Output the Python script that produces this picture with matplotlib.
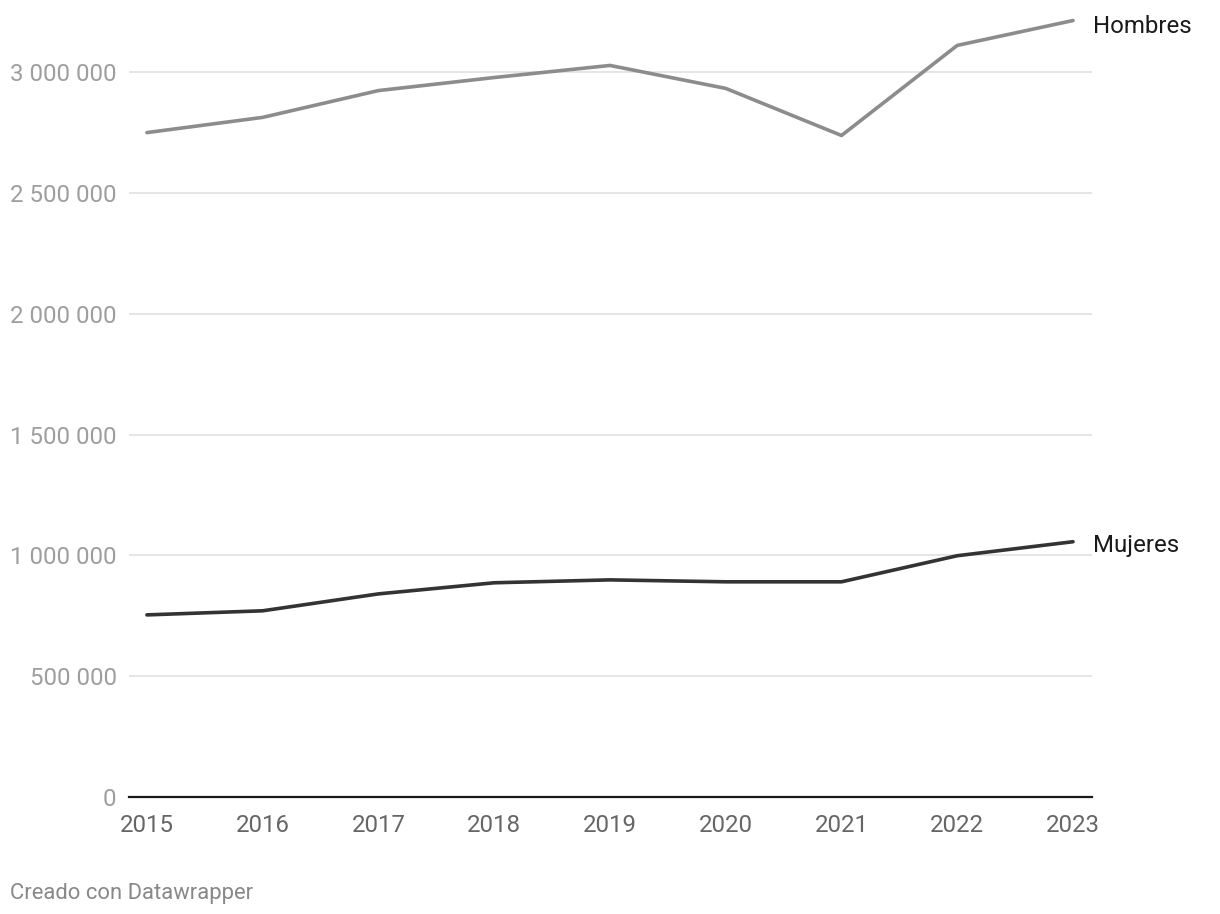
import matplotlib
matplotlib.use("Agg")
import matplotlib.pyplot as plt

years = [2015, 2016, 2017, 2018, 2019, 2020, 2021, 2022, 2023]
hombres = [2751000, 2814000, 2925000, 2979000, 3029000, 2934000, 2739000, 3112000, 3215000]
mujeres = [754000, 771000, 841000, 887000, 899000, 891000, 891000, 999000, 1057000]
yticks = [0, 500000, 1000000, 1500000, 2000000, 2500000, 3000000]
ytick_labels = ["0", "500 000", "1 000 000", "1 500 000", "2 000 000", "2 500 000", "3 000 000"]

plt.rcParams['font.family'] = ['Roboto', 'DejaVu Sans']

fig = plt.figure(figsize=(12.2, 9.14), dpi=100)
ax = fig.add_axes([129/1220, 1 - 797/914, (1092 - 129)/1220, 797/914])

ax.plot(years, hombres, color="#8c8c8c", lw=2.6, solid_capstyle="round", clip_on=False, zorder=3)
ax.plot(years, mujeres, color="#333333", lw=2.6, solid_capstyle="round", clip_on=False, zorder=3)

ax.set_xlim(2014.845, 2023.164)
ax.set_ylim(0, 3300000)

ax.set_yticks(yticks)
ax.set_yticklabels(ytick_labels)
ax.set_xticks(years)
ax.set_xticklabels([str(y) for y in years])

ax.grid(axis="y", color="#e0e0e0", lw=1.2)
ax.set_axisbelow(True)
for s in ["top", "right", "left"]:
    ax.spines[s].set_visible(False)
ax.spines["bottom"].set_color("#1a1a1a")
ax.spines["bottom"].set_linewidth(1.6)
ax.spines["bottom"].set_zorder(4)

ax.tick_params(axis="y", length=0, pad=9, labelsize=17.3, labelcolor="#9e9e9e")
ax.tick_params(axis="x", length=0, pad=12, labelsize=17.3, labelcolor="#666666")

ax.annotate("Hombres", (years[-1], hombres[-1]), xytext=(14.5, -4), textcoords="offset points",
            fontsize=17.3, color="#1a1a1a", va="center", ha="left", annotation_clip=False)
ax.annotate("Mujeres", (years[-1], mujeres[-1]), xytext=(14.5, -3), textcoords="offset points",
            fontsize=17.3, color="#1a1a1a", va="center", ha="left", annotation_clip=False)

fig.text(10/1220, 1 - 893/914, "Creado con Datawrapper", fontsize=15.8, color="#888888",
         va="center", ha="left")

fig.savefig("out.png", dpi=100, facecolor="white")
